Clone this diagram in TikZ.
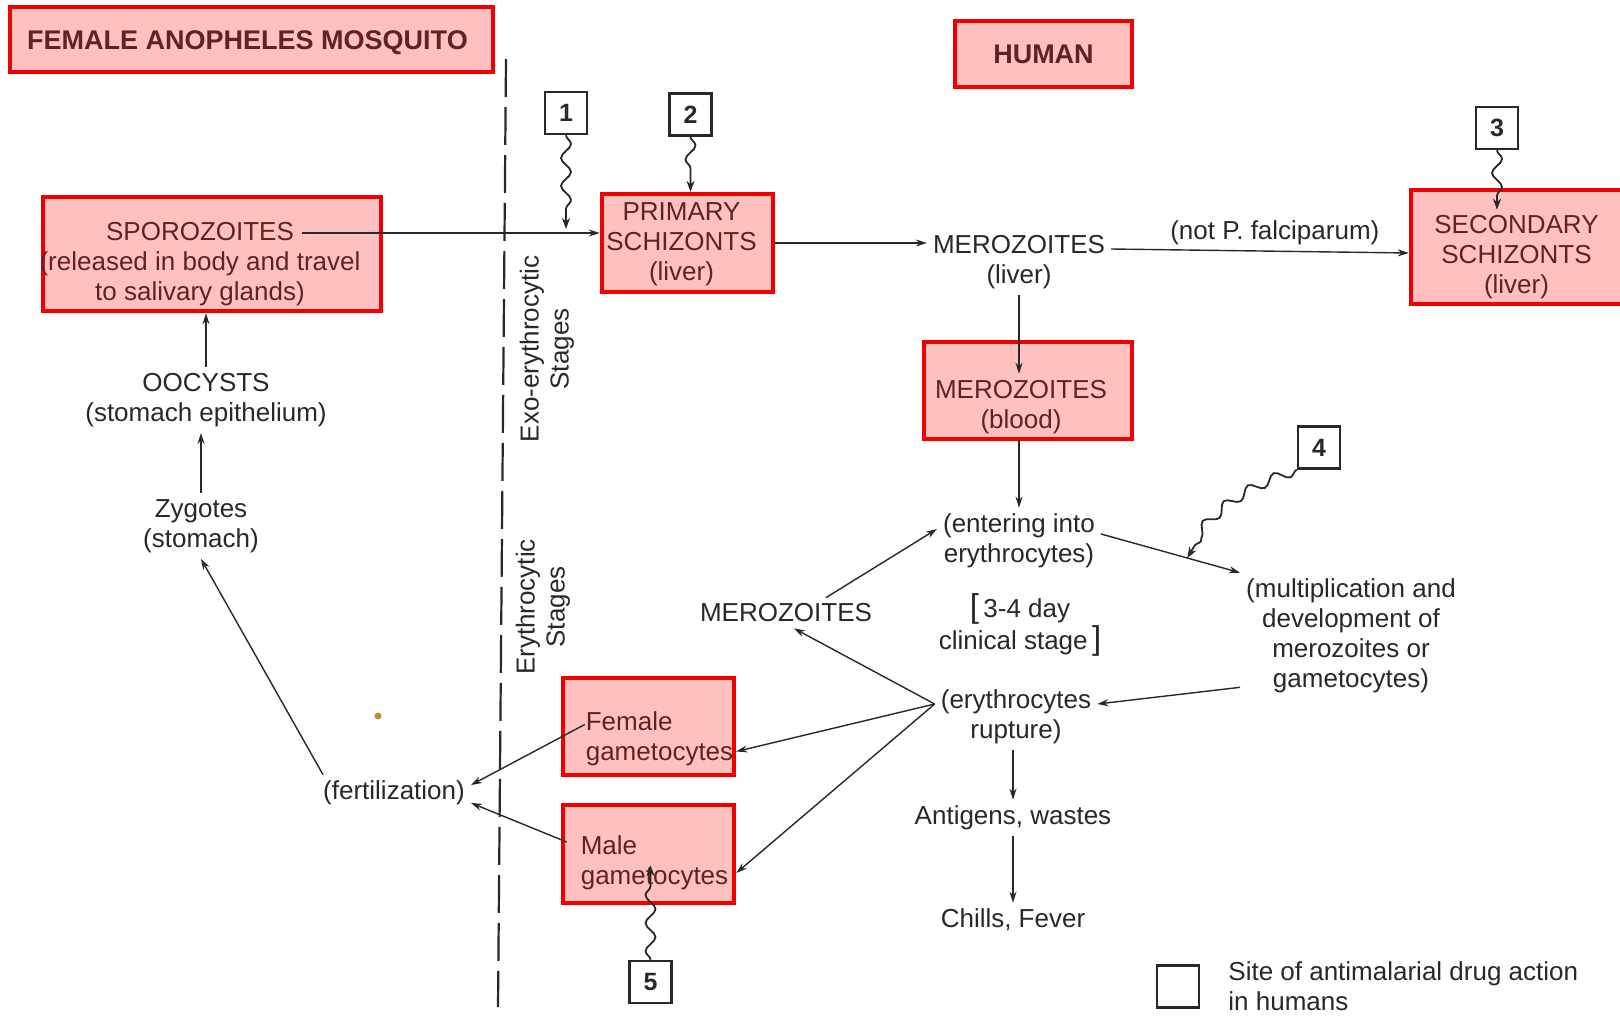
\documentclass[tikz,border=0pt]{standalone}
\usepackage{fontspec}
\setmainfont{Liberation Sans}
\usepackage{xcolor}
\usepackage{tikz}
\usetikzlibrary{arrows.meta,positioning,calc,decorations.pathmorphing}
\definecolor{HiliteRed}{RGB}{240,0,0}
\definecolor{HilitePink}{RGB}{255,192,192}
\definecolor{HiliteInk}{RGB}{95,35,35}
\definecolor{PrintInk}{RGB}{40,40,40}
\definecolor{StainBrown}{RGB}{190,140,50}
\newcommand{\lblfont}{\fontsize{26}{30}\selectfont}
\newcommand{\headfont}{\fontsize{25}{30}\selectfont\bfseries}
\newcommand{\titlefont}{\fontsize{27}{30}\selectfont\bfseries}
\newcommand{\bigbracket}[1]{{\fontsize{33}{30}\selectfont #1}}

\begin{document}
\begin{tikzpicture}[x=1pt,y=-1pt,
    hilite/.style={rectangle,draw=HiliteRed,line width=4.5pt,fill=HilitePink,inner sep=0pt},
    boxlbl/.style={font=\lblfont,text=HiliteInk,align=center,inner sep=0pt},
    lbl/.style={font=\lblfont,text=PrintInk,align=center,inner sep=6pt},
    drugsite/.style={rectangle,draw=PrintInk,line width=2.4pt,minimum size=42pt,inner sep=0pt,font=\headfont,text=PrintInk},
    flow/.style={-{Stealth[length=11pt,width=7pt]},line width=1.4pt,color=PrintInk},
    wiggle/.style={-{Stealth[length=11pt,width=8pt]},line width=1.8pt,color=PrintInk,decorate,decoration={snake,amplitude=5pt,segment length=28pt,post length=10pt}}]
    \fill[white] (0,0) rectangle (1620,1017);
    \useasboundingbox (0,0) rectangle (1620,1017);

    \draw[PrintInk,line width=2.2pt,dash pattern=on 38pt off 10pt] (506,59) -- (498,1007);

    \node[hilite,minimum width=483pt,minimum height=65pt] (mosquito) at (251.5,39.5) {};
    \node[boxlbl,font=\titlefont,xshift=-4pt,yshift=-3pt] (mosquitoText) at (mosquito.center) {FEMALE ANOPHELES MOSQUITO};
    \node[hilite,minimum width=177pt,minimum height=66pt] (human) at (1043.5,54) {};
    \node[boxlbl,font=\titlefont] (humanText) at (human.center) {HUMAN};
    \node[hilite,minimum width=338pt,minimum height=114pt] (sporo) at (212,254) {};
    \node[boxlbl,xshift=-12pt,yshift=-10pt] (sporoText) at (sporo.center) {SPOROZOITES\\(released in body and travel\\to salivary glands)};
    \node[hilite,minimum width=171pt,minimum height=98pt] (primary) at (687.5,243) {};
    \node[boxlbl,xshift=-6pt,yshift=-1pt] (primaryText) at (primary.center) {PRIMARY\\SCHIZONTS\\(liver)};
    \node[hilite,minimum width=211pt,minimum height=114pt] (secondary) at (1516.5,247) {};
    \node[boxlbl,yshift=-10pt] (secondaryText) at (secondary.center) {SECONDARY\\SCHIZONTS\\(liver)};
    \node[hilite,minimum width=208pt,minimum height=97pt] (merBlood) at (1028,390.5) {};
    \node[boxlbl,xshift=-7pt,yshift=-17pt] (merBloodText) at (merBlood.center) {MEROZOITES\\(blood)};
    \node[hilite,minimum width=171pt,minimum height=97pt] (femaleGam) at (648.5,726.5) {};
    \node[boxlbl,align=left,xshift=11pt,yshift=-12pt] (femaleText) at (femaleGam.center) {Female\\gametocytes};
    \node[hilite,minimum width=171pt,minimum height=98pt] (maleGam) at (648.5,854) {};
    \node[boxlbl,align=left,xshift=6pt,yshift=-9pt] (maleText) at (maleGam.center) {Male\\gametocytes};

    \node[lbl] (merLiver) at (1019,262) {MEROZOITES\\(liver)};
    \node[lbl] (entering) at (1019,541) {(entering into\\erythrocytes)};
    \node[lbl] (merEry) at (786,613) {MEROZOITES};
    \node[lbl] (clinical) at (1020,625) {\bigbracket{[}\,3-4 day\\clinical stage\,\bigbracket{]}};
    \node[lbl] (multiply) at (1351,636) {(multiplication and\\development of\\merozoites or\\gametocytes)};
    \node[lbl] (rupture) at (1016,717) {(erythrocytes\\rupture)};
    \node[lbl] (antigens) at (1013,818) {Antigens, wastes};
    \node[lbl] (chills) at (1013,920) {Chills, Fever};
    \node[lbl] (fertil) at (394,793) {(fertilization)};
    \node[lbl] (zygotes) at (201,526) {Zygotes\\(stomach)};
    \node[lbl] (oocysts) at (206,400) {OOCYSTS\\(stomach epithelium)};
    \node[lbl,rotate=90] (exoStages) at (547,349) {Exo-erythrocytic\\Stages};
    \node[lbl,rotate=90] (eryStages) at (543,607) {Erythrocytic\\Stages};

    \node[drugsite] (site1) at (566,113) {1};
    \node[drugsite] (site2) at (690.5,114.5) {2};
    \node[drugsite] (site3) at (1497,128) {3};
    \node[drugsite] (site4) at (1319,447.5) {4};
    \node[drugsite] (site5) at (650.5,982) {5};
    \node[drugsite] (legendSite) at (1178,986.5) {};
    \node[lbl,align=left,right=22pt of legendSite] (legendText) {Site of antimalarial drug action\\in humans};

    \coordinate (sporoOut) at ($(sporo.center)+(90,-21)$);
    \draw[flow] (sporoOut) -- (sporoOut -| primary.west);
    \draw[flow] (primary.east) -- (primary.east -| merLiver.west);
    \draw[flow] ([yshift=13pt]merLiver.east) -- node[lbl,above,pos=0.55] (notFalc) {(not P. falciparum)} ([yshift=-6pt]secondary.west);
    \draw[flow] (merLiver.south) -- ($(merLiver.south |- merBlood.north)+(0,34)$);
    \draw[flow] (entering.north |- merBlood.south) -- (entering.north);
    \draw[flow] ([xshift=40pt]merEry.north) -- ([yshift=12pt]entering.west);
    \draw[flow] ([yshift=7pt]entering.east) -- coordinate[pos=0.62] (hit4) (multiply.north west);
    \draw[flow] ([yshift=12pt]multiply.south west) -- ([yshift=13pt]rupture.east);
    \coordinate (ruptOut) at ([yshift=13pt]rupture.west);
    \draw[flow] (ruptOut) -- ([xshift=8pt]merEry.south);
    \draw[flow] (ruptOut) -- ([yshift=-25pt]femaleGam.east);
    \draw[flow] (ruptOut) -- ([yshift=-19pt]maleGam.east);
    \draw[flow] (antigens.north |- rupture.south) -- (antigens.north);
    \draw[flow] (antigens.south) -- (chills.north);
    \draw[flow] ([shift={(24,-2)}]femaleGam.west) -- ([yshift=8pt]fertil.east);
    \draw[flow] ([shift={(6,-12)}]maleGam.west) -- ([yshift=-10pt]fertil.east);
    \draw[flow] ([xshift=6pt]fertil.north west) -- (zygotes.south);
    \draw[flow] (zygotes.north) -- (zygotes.north |- oocysts.south);
    \draw[flow] (oocysts.north) -- (oocysts.north |- sporo.south);

    \draw[wiggle] (site1.south) -- ($(site1.south |- sporoOut)+(0,-4)$);
    \draw[wiggle] (site2.south) -- (site2.south |- primary.north);
    \draw[wiggle] (site3.south) -- ($(site3.south |- secondary.north)+(0,22)$);
    \draw[wiggle] (site4.south west) to[out=200,in=60] (hit4);
    \draw[wiggle] (site5.north) -- ($(site5.north |- maleGam.south)+(0,-40)$);

    \fill[StainBrown] (378,716) circle (3.5pt);
\end{tikzpicture}
\end{document}
